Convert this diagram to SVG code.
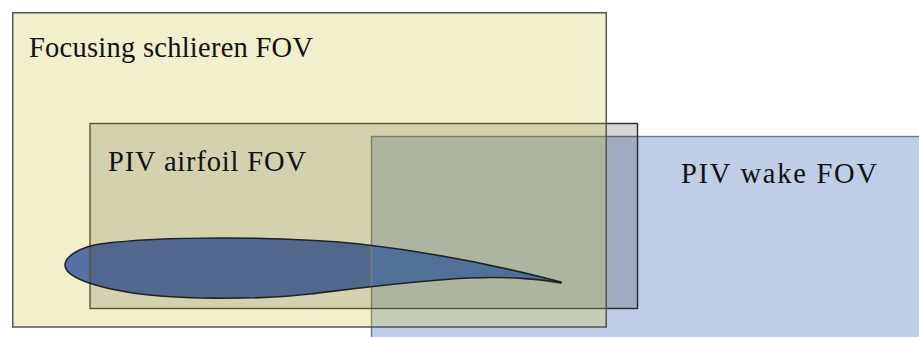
<svg xmlns="http://www.w3.org/2000/svg" width="919" height="337" viewBox="0 0 919 337">
  <style>
    .fov { stroke-width: 1.4; }
    .wake { fill: #5f82c0; fill-opacity: 0.4; stroke: #777777; }
    .piv { fill: #000000; fill-opacity: 0.16; stroke: #2a2a2a; }
    .schl { fill: #d1c949; fill-opacity: 0.28; stroke: #555555; stroke-width: 1.5; }
    .foil-fill { fill: #274fcb; stroke: none; }
    .foil-aft { fill: #0045f0; stroke: none; }
    .foil-line { fill: none; stroke: #222222; stroke-width: 1.6; stroke-linejoin: round; }
    .label { font-family: "Liberation Serif", "Times New Roman", serif; font-size: 28.5px; fill: #111111; }
  </style>

  <defs>
    <path id="foil-shape" d="M 561,282
      C 500,266 430,252 360,244
      C 280,236 160,236 100,244
      C 82,246.5 65,256 65,265
      C 65,276 90,287 140,294
      C 170,298 250,301 310,294
      C 360,288 420,280 470,278
      C 510,276 545,280 561,283 Z"/>
    <!-- area covered by the wake window -->
    <clipPath id="wake-area">
      <rect x="371.5" y="136.5" width="560" height="220"/>
    </clipPath>
  </defs>

  <!-- cambered airfoil section (fill), seen through the windows above it -->
  <g id="airfoil">
    <use href="#foil-shape" class="foil-fill"/>
    <use href="#foil-shape" class="foil-aft" clip-path="url(#wake-area)"/>
  </g>

  <!-- wake field of view, extends past the right and bottom edges -->
  <g id="piv-wake-fov">
    <rect class="fov wake" x="371.5" y="136.5" width="560" height="220"/>
  </g>

  <!-- PIV field of view around the airfoil -->
  <g id="piv-airfoil-fov">
    <rect class="fov piv" x="90" y="123.5" width="547.5" height="185"/>
  </g>

  <!-- schlieren field of view, drawn over the PIV windows -->
  <g id="schlieren-fov">
    <rect class="fov schl" x="12.75" y="12.75" width="593.5" height="314.25"/>
  </g>

  <!-- airfoil contour on top -->
  <g id="airfoil-outline">
    <use href="#foil-shape" class="foil-line"/>
  </g>

  <!-- labels -->
  <g id="labels">
    <text class="label" x="29" y="56.7" textLength="284" lengthAdjust="spacing">Focusing schlieren FOV</text>
    <text class="label" x="108" y="170.5" textLength="198" lengthAdjust="spacing">PIV airfoil FOV</text>
    <text class="label" x="681" y="182.7" textLength="196" lengthAdjust="spacing">PIV wake FOV</text>
  </g>
</svg>
